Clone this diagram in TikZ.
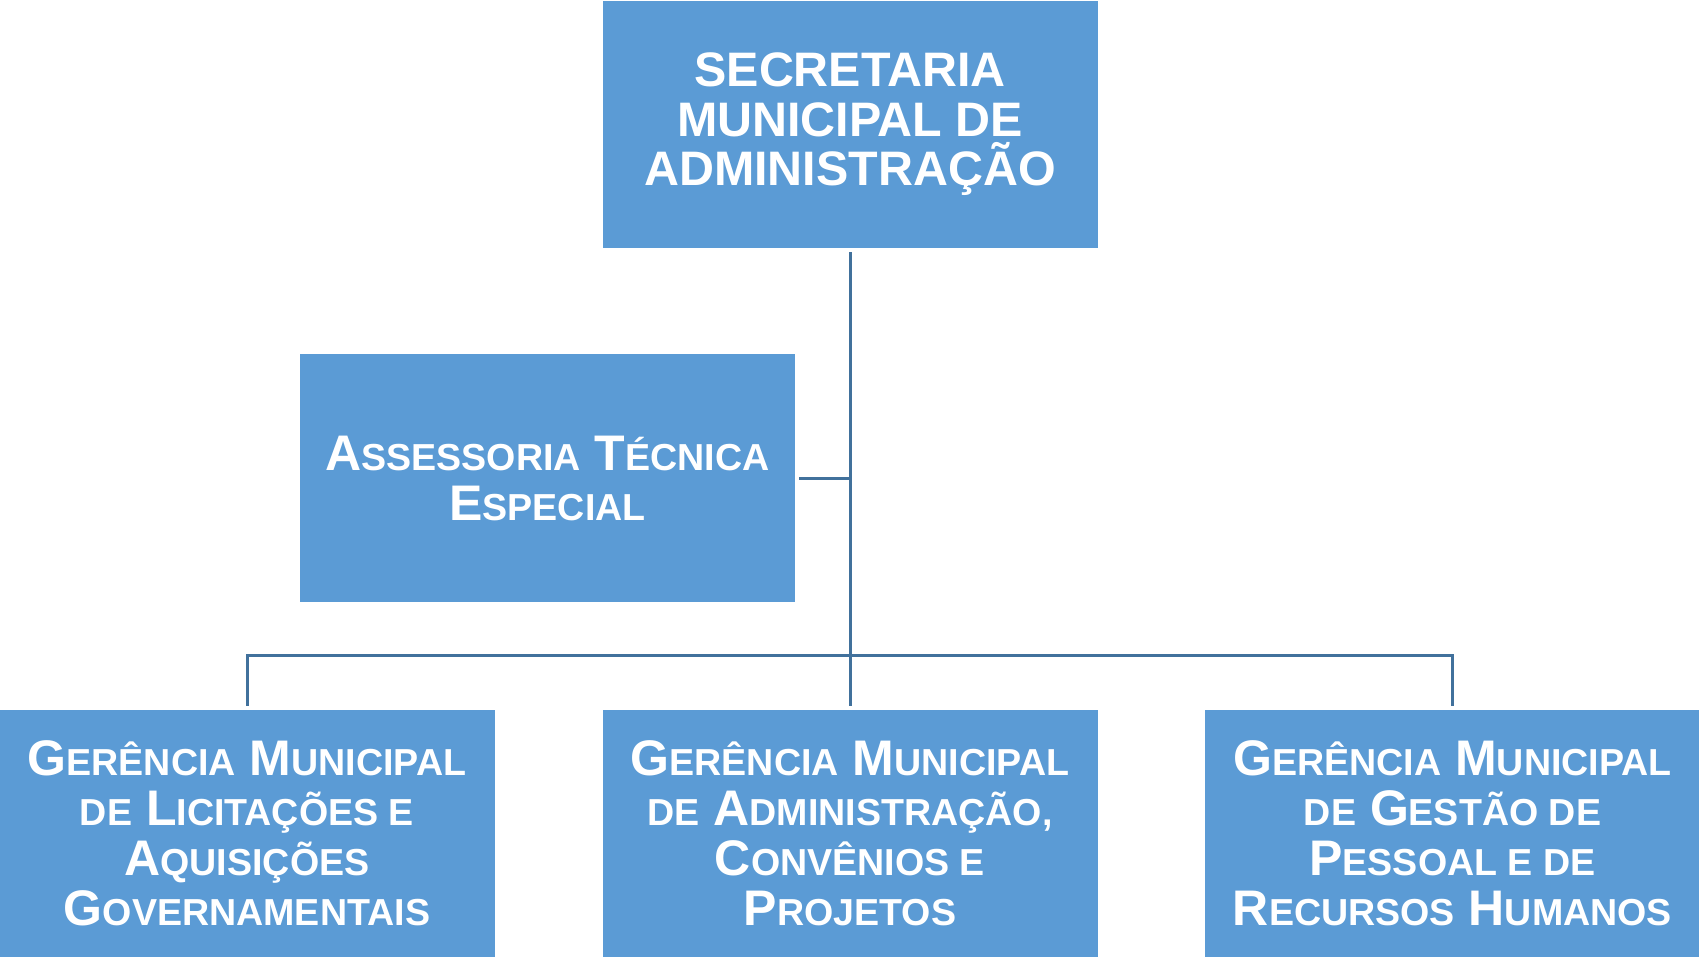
\documentclass[tikz,border=0pt]{standalone}
\usepackage{fontspec}
\setmainfont{Liberation Sans}
\usetikzlibrary{positioning}
\definecolor{boxblue}{HTML}{5B9BD5}
\definecolor{lineblue}{HTML}{41719C}
\newcommand\smc[1]{{\fontsize{18.8pt}{25pt}\selectfont #1}}
\begin{document}
\begin{tikzpicture}[x=0.5pt,y=-0.5pt,
	unit/.style={fill=boxblue, text=white, align=center, inner sep=0pt,
		minimum width=247.5pt, minimum height=123.5pt,
		font=\bfseries\fontsize{25pt}{25pt}\selectfont},
	link/.style={draw=lineblue, line width=1.5pt}]
	\useasboundingbox (0,0) rectangle (1699,957);
	% Boxes
	\node [unit, font=\bfseries\fontsize{24.2pt}{24.75pt}\selectfont] (sec) at (850,124.5) {SECRETARIA\\MUNICIPAL DE\\ADMINISTRAÇÃO};
	\node [unit] (ass) at (547.5,478) {A\smc{SSESSORIA} T\smc{ÉCNICA}\\E\smc{SPECIAL}};
	\node [unit] (g1) at (247,833.5) {G\smc{ERÊNCIA} M\smc{UNICIPAL}\\\smc{DE} L\smc{ICITAÇÕES E}\\A\smc{QUISIÇÕES}\\G\smc{OVERNAMENTAIS}};
	\node [unit] (g2) at (850,833.5) {G\smc{ERÊNCIA} M\smc{UNICIPAL}\\\smc{DE} A\smc{DMINISTRAÇÃO,}\\C\smc{ONVÊNIOS E}\\P\smc{ROJETOS}};
	\node [unit] (g3) at (1452.5,833.5) {G\smc{ERÊNCIA} M\smc{UNICIPAL}\\\smc{DE} G\smc{ESTÃO DE}\\P\smc{ESSOAL E DE}\\R\smc{ECURSOS} H\smc{UMANOS}};
	% Links
	\coordinate (bar) at (850,655.5);
	\draw [link] ([yshift=-2pt]sec.south) -- ([yshift=2pt]g2.north);
	\draw [link] ([yshift=2pt]g1.north) |- (bar) -| ([yshift=2pt]g3.north);
	\draw [link] ([xshift=2pt]ass.east) -- (ass.east -| sec.south);
\end{tikzpicture}
\end{document}
